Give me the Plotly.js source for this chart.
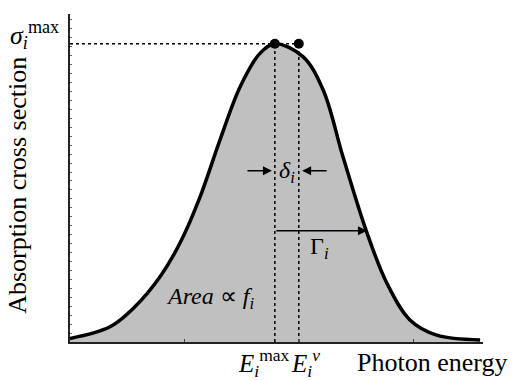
<!DOCTYPE html>
<html>
<head>
<meta charset="utf-8">
<script src="https://cdn.plot.ly/plotly-3.0.1.min.js"></script>
<style>
  html, body { margin: 0; padding: 0; background: #fff; }
  #plot { width: 513px; height: 380px; }
</style>
</head>
<body>
<div id="plot"></div>
<script>
// absorption band (arbitrary units)
let energy = [0, 0.97, 1.57, 2.18, 2.66, 3.15, 3.63, 4.12, 4.60, 4.96, 5.64, 6.13, 6.61, 7.18, 7.67, 8.23, 8.88, 9.93];
let sigma  = [0.012, 0.051, 0.118, 0.219, 0.331, 0.487, 0.677, 0.856, 0.968, 1.0, 0.957, 0.845, 0.621, 0.370, 0.198, 0.074, 0.023, 0.007];

// E_max and E_nu markers
let markE = [4.96, 5.54];
let markS = [1.0, 1.0];

// arrows
let deltaY = 0.574;
let deltaLeft = [4.26, 4.89];   // tail, head
let deltaRight = [6.25, 5.62];  // tail, head
let gammaY = 0.373;
let gammaX = [4.96, 7.19];      // tail, head

let serif = "Liberation Serif, Times New Roman, serif";

let curve = {
    x: energy,
    y: sigma,
    type: 'scatter',
    mode: 'lines',
    fill: 'tozeroy',
    fillcolor: '#c0c0c0',
    line: {color: 'black', width: 3.5, shape: 'spline', smoothing: 1},
    hoverinfo: 'skip'
};

let dotLine = {color: 'black', width: 1.5, dash: 'dot'};

let hLine = {
    x: [0, markE[1]],
    y: [markS[0], markS[1]],
    type: 'scatter', mode: 'lines', line: dotLine
};
let vLine1 = {
    x: [markE[0], markE[0]],
    y: [0, markS[0]],
    type: 'scatter', mode: 'lines', line: dotLine
};
let vLine2 = {
    x: [markE[1], markE[1]],
    y: [0, markS[1]],
    type: 'scatter', mode: 'lines', line: dotLine
};

let dots = {
    x: markE,
    y: markS,
    type: 'scatter',
    mode: 'markers',
    marker: {color: 'black', size: 10},
    cliponaxis: false
};

function arrow(tail, head, y) {
    return {
        x: head, y: y, ax: tail, ay: y,
        xref: 'x', yref: 'y', axref: 'x', ayref: 'y',
        text: '', showarrow: true,
        arrowhead: 2, arrowsize: 1.2, arrowwidth: 1.5, arrowcolor: 'black',
        standoff: 0, startstandoff: 0
    };
}

function label(x, y, ref, text, size, extra) {
    let a = {
        x: x, y: y, xref: ref[0], yref: ref[1], text: text,
        xanchor: 'center', yanchor: 'middle',
        showarrow: false, font: {family: serif, size: size, color: 'black'}
    };
    return Object.assign(a, extra || {});
}

let annotations = [
    arrow(deltaLeft[0], deltaLeft[1], deltaY),
    arrow(deltaRight[0], deltaRight[1], deltaY),
    arrow(gammaX[0], gammaX[1], gammaY),
    label(5.25, 0.57, ['x', 'y'], '<i>δ</i><sub><i>i</i></sub>', 24),
    label(6.05, 0.315, ['x', 'y'], 'Γ<sub><i>i</i></sub>', 24),
    label(3.39, 0.148, ['x', 'y'], '<i>Area</i> ∝ <i>f</i><sub><i>i</i></sub>', 24),
    label(-0.085, 0.936, ['paper', 'paper'], '<i>σ</i><sub><i>i</i></sub><sup>max</sup>', 26),
    label(0.47, -0.064, ['paper', 'paper'], '<i>E</i><sub><i>i</i></sub><sup>max</sup>', 25),
    label(0.571, -0.064, ['paper', 'paper'], '<i>E</i><sub><i>i</i></sub><sup><i>ν</i></sup>', 25),
    label(0.877, -0.064, ['paper', 'paper'], 'Photon energy', 26),
    label(-0.126, 0.479, ['paper', 'paper'], 'Absorption cross section', 26, {textangle: -90})
];

let layout = {
    width: 513,
    height: 380,
    margin: {l: 70, r: 30, t: 14, b: 38},
    paper_bgcolor: 'white',
    plot_bgcolor: 'white',
    showlegend: false,
    xaxis: {
        range: [0, 10],
        showgrid: false, zeroline: false,
        showline: true, linecolor: '#222', linewidth: 2,
        ticks: 'inside', ticklen: 3, tickcolor: '#444',
        tick0: 0, dtick: 2.77,
        showticklabels: false
    },
    yaxis: {
        range: [0, 1.1],
        showgrid: false, zeroline: false,
        showline: true, linecolor: '#222', linewidth: 2,
        ticks: 'inside', ticklen: 2, tickcolor: '#666',
        dtick: 0.03,
        showticklabels: false
    },
    annotations: annotations
};

Plotly.newPlot('plot', [curve, hLine, vLine1, vLine2, dots], layout, {staticPlot: true});
</script>
</body>
</html>
